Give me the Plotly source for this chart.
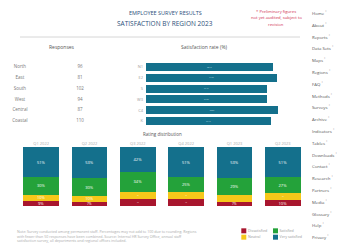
import plotly.graph_objects as go

# ---------------- data ----------------
title_lines = ["EMPLOYEE SURVEY RESULTS", "SATISFACTION BY REGION 2023"]
note_lines = ["* Preliminary figures", "not yet audited, subject to", "revision"]

regions = ["North", "East", "South", "West", "Central", "Coastal"]
region_codes = ["N1", "E2", "S", "W3", "C4", "K"]
table_counts = ["96", "81", "102", "94", "87", "110"]
satisfaction = [88.4, 91.2, 84.1, 84.3, 92.0, 87.1]

stack_groups = ["Q1 2022", "Q2 2022", "Q3 2022", "Q4 2022", "Q1 2023", "Q2 2023"]
very_satisfied = [51, 53, 42, 51, 53, 51]
satisfied = [30, 30, 34, 25, 29, 27]
neutral = [10, 10, 12, 12, 11, 12]
dissatisfied = [9, 7, 12, 12, 7, 10]

legend_names = ["Dissatisfied", "Neutral", "Satisfied", "Very satisfied"]
legend_col = [0, 0, 1, 1]
legend_row = [0, 1, 0, 1]

sidebar_items = ["Home", "About", "Reports", "Data Sets", "Maps", "Regions", "FAQ",
                 "Methods", "Surveys", "Archive", "Indicators", "Tables", "Downloads",
                 "Contact", "Research", "Partners", "Media", "Glossary", "Help", "Privacy"]

footnote = ("Note: Survey conducted among permanent staff. Percentages may not add to 100 due to rounding. "
            "Regions<br>with fewer than 50 responses have been combined. Source: Internal HR Survey Office, "
            "annual staff<br>satisfaction survey, all departments and regional offices included.")

header_table = "Responses"
header_bars = "Satisfaction rate (%)"
subtitle_stack = "Rating distribution"

# ---------------- styles ----------------
TEAL = "#14708c"
GREEN = "#24a23a"
YELLOW = "#f6c81a"
RED = "#a8162e"
LEGEND_COLORS = [RED, YELLOW, GREEN, TEAL]
FONT = "Open Sans"
W, H = 346, 250


def px(x):
    return x / W


def py(y):
    return 1 - y / H


fig = go.Figure()

# table as text on its own axis (categorical columns)
fig.add_trace(go.Scatter(
    x=["Region"] * len(regions), y=regions, mode="text", text=regions,
    textfont=dict(size=4.5, color="#777", family=FONT), xaxis="x3", yaxis="y2",
    showlegend=False, hoverinfo="skip"))
fig.add_trace(go.Scatter(
    x=["Count"] * len(regions), y=regions, mode="text", text=table_counts,
    textfont=dict(size=4.5, color="#777", family=FONT), xaxis="x3", yaxis="y2",
    showlegend=False, hoverinfo="skip"))

# horizontal bars
fig.add_trace(go.Bar(
    x=satisfaction, y=regions, orientation="h", marker=dict(color=TEAL, line=dict(width=0)),
    text=[f"{v:.1f}%" for v in satisfaction], textposition="inside", insidetextanchor="middle",
    textfont=dict(size=4, color="#cfe3ea", family=FONT),
    xaxis="x2", yaxis="y2", showlegend=False, width=0.74))

# stacked bars
for name, vals, col in [
    ("Dissatisfied", dissatisfied, RED),
    ("Neutral", neutral, YELLOW),
    ("Satisfied", satisfied, GREEN),
    ("Very satisfied", very_satisfied, TEAL),
]:
    fig.add_trace(go.Bar(
        x=stack_groups, y=vals, name=name, marker=dict(color=col, line=dict(width=0)),
        text=[f"{v}%" for v in vals], textposition="inside", insidetextanchor="middle",
        textfont=dict(size=4, color="white", family=FONT),
        xaxis="x", yaxis="y", showlegend=False, width=0.74))

# compact legend drawn on its own small axis
fig.add_trace(go.Scatter(
    x=legend_col, y=legend_row, mode="markers+text", text=legend_names,
    textposition="middle right", textfont=dict(size=3.6, color="#999", family=FONT),
    marker=dict(symbol="square", size=5, color=LEGEND_COLORS),
    xaxis="x4", yaxis="y4", showlegend=False, hoverinfo="skip"))

fig.update_layout(
    width=W, height=H, margin=dict(l=0, r=0, t=0, b=0, autoexpand=False),
    paper_bgcolor="white", plot_bgcolor="white",
    barmode="stack", bargap=0.26, showlegend=False,
    font=dict(family=FONT, size=5, color="#666"),
    xaxis=dict(domain=[px(17), px(307)], side="top", showgrid=False, zeroline=False,
               showline=False, ticks="", tickfont=dict(size=4, color="#aaa")),
    yaxis=dict(domain=[py(206), py(147)], range=[0, 100], visible=False),
    xaxis2=dict(domain=[px(146), px(290)], range=[0, 100], anchor="y2", visible=False),
    yaxis2=dict(domain=[py(126.5), py(61.5)], anchor="x2", autorange="reversed",
                showgrid=False, zeroline=False, showline=False, ticks="",
                tickmode="array", tickvals=regions, ticktext=region_codes,
                tickfont=dict(size=4, color="#999"), ticklabelstandoff=2),
    xaxis3=dict(domain=[0, px(130)], range=[-0.333, 1.833], anchor="y2", visible=False,
                type="category", categoryorder="array", categoryarray=["Region", "Count"]),
    xaxis4=dict(domain=[px(240), px(304)], range=[-0.12, 1.9], anchor="y4", visible=False),
    yaxis4=dict(domain=[py(241), py(227)], range=[1.6, -0.6], anchor="x4", visible=False),
)

ann = []
ann.append(dict(x=px(165), y=py(13), text=title_lines[0], font=dict(size=5.5, color="#2b4f7a")))
ann.append(dict(x=px(165), y=py(24), text=title_lines[1], font=dict(size=6.5, color="#2b4f7a")))
for i, t in enumerate(note_lines):
    ann.append(dict(x=px(276), y=py(11 + 7 * i), text=t, font=dict(size=4.2, color="#d03050")))
ann.append(dict(x=px(62), y=py(47), text=header_table, font=dict(size=5, color="#555")))
ann.append(dict(x=px(205), y=py(47), text=header_bars, font=dict(size=5, color="#555")))
ann.append(dict(x=px(162), y=py(134), text=subtitle_stack, font=dict(size=4.5, color="#555")))
ann.append(dict(x=px(15), y=py(227), text=footnote, xanchor="left", yanchor="top", align="left",
                font=dict(size=3.6, color="#aaa")))
for i, t in enumerate(sidebar_items):
    ann.append(dict(x=px(310), y=py(13 + 11.8 * i), text=t + " <sup>°</sup>", xanchor="left",
                    font=dict(size=4.3, color="#555")))
for a in ann:
    a.setdefault("xanchor", "center")
    a.setdefault("yanchor", "middle")
    a["xref"] = "paper"
    a["yref"] = "paper"
    a["showarrow"] = False
fig.update_layout(annotations=ann)

fig.add_shape(type="line", xref="paper", yref="paper", x0=px(20), x1=px(300), y0=py(37), y1=py(37),
              line=dict(color="#ccc", width=0.8))

fig.write_html("out.html", config={"displayModeBar": False},
               post_script="document.body.style.margin='0';document.body.style.overflow='hidden';")
